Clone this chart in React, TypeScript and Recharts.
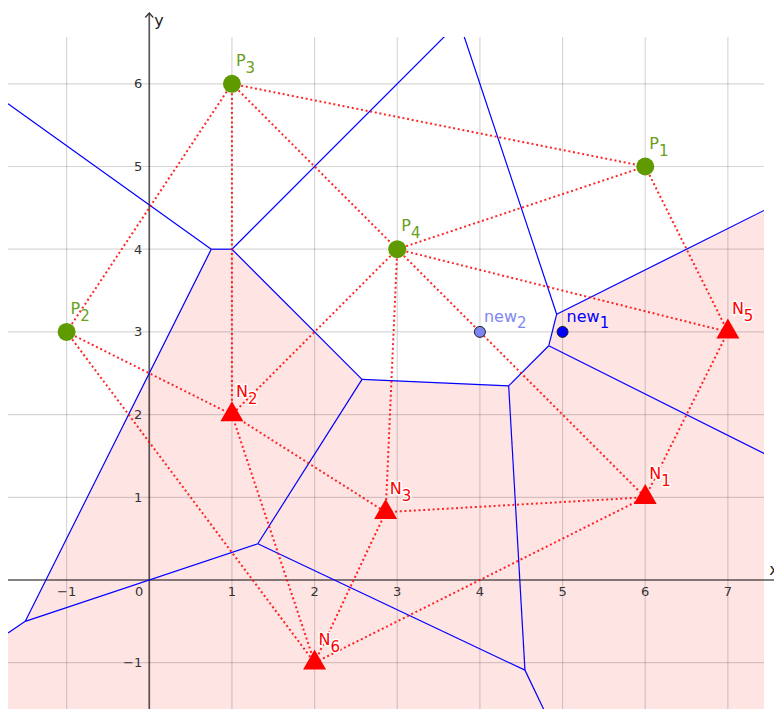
import React from 'react';
import { ComposedChart, XAxis, YAxis, Area, Scatter, ReferenceLine, ReferenceDot } from 'recharts';

// visible window of the plane
const X_MIN = -1.709;
const X_MAX = 7.437;
const Y_MIN = -1.56;
const Y_MAX = 6.566;
const Y_ARROW = 6.856;
const X_AXIS_END = 7.7;

const xTicks = [-1, 1, 2, 3, 4, 5, 6, 7];
const yTicks = [-1, 1, 2, 3, 4, 5, 6];

// sites
const pPoints = [
  { name: 'P', sub: '1', x: 6, y: 5 },
  { name: 'P', sub: '2', x: -1, y: 3 },
  { name: 'P', sub: '3', x: 1, y: 6 },
  { name: 'P', sub: '4', x: 3, y: 4 },
];
const nPoints = [
  { name: 'N', sub: '1', x: 6, y: 1 },
  { name: 'N', sub: '2', x: 1, y: 2 },
  { name: 'N', sub: '3', x: 2.86, y: 0.82 },
  { name: 'N', sub: '5', x: 7, y: 3 },
  { name: 'N', sub: '6', x: 2, y: -1 },
];
const newPoints = [
  { name: 'new', sub: '1', x: 5, y: 3 },
  { name: 'new', sub: '2', x: 4, y: 3 },
];

// voronoi vertices (ends marked 0 sit on the window border)
const voronoiVertices: Record<string, [number, number]> = {
  A: [0.75, 4],
  B: [1, 4],
  C: [3.75, 6.75],
  D: [4.929, 3.214],
  E: [4.833, 2.833],
  F: [4.348, 2.348],
  G: [2.574, 2.426],
  H: [-1.5, -0.5],
  I: [1.313, 0.438],
  J: [4.545, -1.09],
  A0: [-1.709, 5.76],
  D0: [7.437, 4.469],
  E0: [7.437, 1.53],
  J0: [4.77, -1.56],
  H0: [-1.709, -0.64],
};

const voronoiEdges = [
  ['A0', 'A'], ['A', 'B'], ['B', 'C'], ['C', 'D'], ['D', 'D0'], ['D', 'E'],
  ['E', 'E0'], ['E', 'F'], ['F', 'G'], ['G', 'B'], ['G', 'I'], ['A', 'H'],
  ['H', 'H0'], ['H', 'I'], ['I', 'J'], ['J', 'F'], ['J', 'J0'],
];

const delaunayEdges = [
  ['P3', 'P1'], ['P3', 'P2'], ['P3', 'N2'], ['P3', 'P4'], ['P4', 'P1'],
  ['P4', 'N5'], ['P4', 'N2'], ['P4', 'N3'], ['P4', 'N1'], ['P1', 'N5'],
  ['P2', 'N2'], ['P2', 'N6'], ['N2', 'N3'], ['N2', 'N6'], ['N3', 'N1'],
  ['N3', 'N6'], ['N6', 'N1'], ['N1', 'N5'],
];

// upper border of the N cells
const nRegionTop = ['H0', 'H', 'A', 'B', 'G', 'F', 'E', 'D', 'D0'];

const GREEN = '#5f9a00';
const GREEN_LABEL = '#6aa01a';
const RED = '#ff0000';
const BLUE = '#0000ff';
const NEW_COLORS: Record<string, string> = { '1': '#0000ff', '2': '#7d84f3' };
const NEW_LABEL: Record<string, string> = { '1': '#0000ff', '2': '#8187f5' };
const FONT = '"DejaVu Sans", sans-serif';

const siteLookup: Record<string, { x: number; y: number }> = {};
[...pPoints, ...nPoints].forEach((p) => {
  siteLookup[p.name + p.sub] = p;
});

const pinkData = nRegionTop.map((k) => ({ x: voronoiVertices[k][0], y: voronoiVertices[k][1] }));

const fmt = (v: number) => (v < 0 ? '\u2212' + Math.abs(v) : String(v));

const renderP = (props: any) => {
  const { cx, cy } = props;
  const d = props.payload ?? props;
  return (
    <g>
      <circle cx={cx} cy={cy} r={9} fill={GREEN} />
      <text x={cx + 4} y={cy - 18} fill={GREEN_LABEL} fontSize={16} fontFamily={FONT}>
        {d.name}
        <tspan dy={7} fontSize={15}>{d.sub}</tspan>
      </text>
    </g>
  );
};

const renderN = (props: any) => {
  const { cx, cy } = props;
  const d = props.payload ?? props;
  return (
    <g>
      <path
        d={`M${cx},${cy - 13.3} L${cx + 11.5},${cy + 6.7} L${cx - 11.5},${cy + 6.7} Z`}
        fill={RED}
      />
      <text
        x={cx + 4}
        y={cy - 18}
        fill={RED}
        fontSize={16}
        fontFamily={FONT}
        stroke="#fff"
        strokeWidth={3}
        paintOrder="stroke"
        strokeLinejoin="round"
      >
        {d.name}
        <tspan dy={7} fontSize={15}>{d.sub}</tspan>
      </text>
    </g>
  );
};

const renderNew = (props: any) => {
  const { cx, cy } = props;
  const d = props.payload ?? props;
  return (
    <g>
      <circle cx={cx} cy={cy} r={5.5} fill={NEW_COLORS[d.sub]} stroke="#222" strokeWidth={1} />
      <text x={cx + 4} y={cy - 10} fill={NEW_LABEL[d.sub]} fontSize={16} fontFamily={FONT}>
        {d.name}
        <tspan dy={6} fontSize={15}>{d.sub}</tspan>
      </text>
    </g>
  );
};

const seg = (a: [number, number], b: [number, number]) => [
  { x: a[0], y: a[1] },
  { x: b[0], y: b[1] },
];

export default function App() {
  return (
    <div style={{ width: 774, height: 701 }}>
      <style>{'body{overflow:hidden}'}</style>
      <ComposedChart width={774} height={701} margin={{ top: 29, right: 18, bottom: 0, left: 0 }}>
        <XAxis type="number" dataKey="x" domain={[X_MIN, X_MAX]} allowDataOverflow hide />
        <YAxis type="number" dataKey="y" domain={[Y_MIN, Y_MAX]} allowDataOverflow hide />

        <Area
          data={pinkData}
          dataKey="y"
          type="linear"
          baseValue={Y_MIN}
          fill="#ffe4e4"
          fillOpacity={1}
          stroke="none"
          isAnimationActive={false}
        />

        {xTicks.map((t) => (
          <ReferenceLine key={'gx' + t} x={t} stroke="#000" strokeOpacity={0.16} strokeWidth={1.2} />
        ))}
        {yTicks.map((t) => (
          <ReferenceLine key={'gy' + t} y={t} stroke="#000" strokeOpacity={0.16} strokeWidth={1.2} />
        ))}

        {/* axes */}
        <ReferenceLine
          segment={[{ x: X_MIN, y: 0 }, { x: X_AXIS_END, y: 0 }]}
          stroke="#000"
          strokeOpacity={0.65}
          strokeWidth={1.7}
          ifOverflow="visible"
        />
        <ReferenceLine
          segment={[{ x: 0, y: Y_MIN }, { x: 0, y: Y_ARROW }]}
          stroke="#000"
          strokeOpacity={0.65}
          strokeWidth={1.7}
          ifOverflow="visible"
        />

        {voronoiEdges.map(([a, b]) => (
          <ReferenceLine
            key={'v' + a + b}
            segment={seg(voronoiVertices[a], voronoiVertices[b])}
            stroke={BLUE}
            strokeWidth={1.2}
            ifOverflow="hidden"
          />
        ))}

        {delaunayEdges.map(([a, b]) => (
          <ReferenceLine
            key={'d' + a + b}
            segment={[
              { x: siteLookup[a].x, y: siteLookup[a].y },
              { x: siteLookup[b].x, y: siteLookup[b].y },
            ]}
            stroke={RED}
            strokeOpacity={0.85}
            strokeWidth={2}
            strokeDasharray="2 2.7"
            ifOverflow="hidden"
          />
        ))}

        {xTicks.map((t) => (
          <ReferenceDot
            key={'tx' + t}
            x={t}
            y={0}
            ifOverflow="visible"
            shape={(p: any) => (
              <text x={p.cx} y={p.cy + 16} textAnchor="middle" fontSize={13} fill="#333" fontFamily={FONT}>
                {fmt(t)}
              </text>
            )}
          />
        ))}
        {yTicks.map((t) => (
          <ReferenceDot
            key={'ty' + t}
            x={0}
            y={t}
            ifOverflow="visible"
            shape={(p: any) => (
              <text x={p.cx - 7} y={p.cy + 4.5} textAnchor="end" fontSize={13} fill="#333" fontFamily={FONT}>
                {fmt(t)}
              </text>
            )}
          />
        ))}
        <ReferenceDot
          x={0}
          y={0}
          ifOverflow="visible"
          shape={(p: any) => (
            <text x={p.cx - 10} y={p.cy + 16} textAnchor="middle" fontSize={13} fill="#333" fontFamily={FONT}>
              0
            </text>
          )}
        />
        <ReferenceDot
          x={0}
          y={Y_ARROW}
          ifOverflow="visible"
          shape={(p: any) => (
            <g>
              <path
                d={`M${p.cx - 4},${p.cy + 4.5} L${p.cx},${p.cy} L${p.cx + 4},${p.cy + 4.5}`}
                fill="none"
                stroke="#333"
                strokeWidth={1.3}
              />
              <text x={p.cx + 5} y={p.cy + 13} fontSize={16} fill="#222" fontFamily={FONT}>
                y
              </text>
            </g>
          )}
        />
        <ReferenceDot
          x={7.5}
          y={0}
          ifOverflow="visible"
          shape={(p: any) => (
            <text x={p.cx} y={p.cy - 5} fontSize={16} fill="#222" fontFamily={FONT}>
              x
            </text>
          )}
        />

        <Scatter data={pPoints} shape={renderP} isAnimationActive={false} />
        <Scatter data={nPoints} shape={renderN} isAnimationActive={false} />
        <Scatter data={newPoints} shape={renderNew} isAnimationActive={false} />
      </ComposedChart>
    </div>
  );
}
